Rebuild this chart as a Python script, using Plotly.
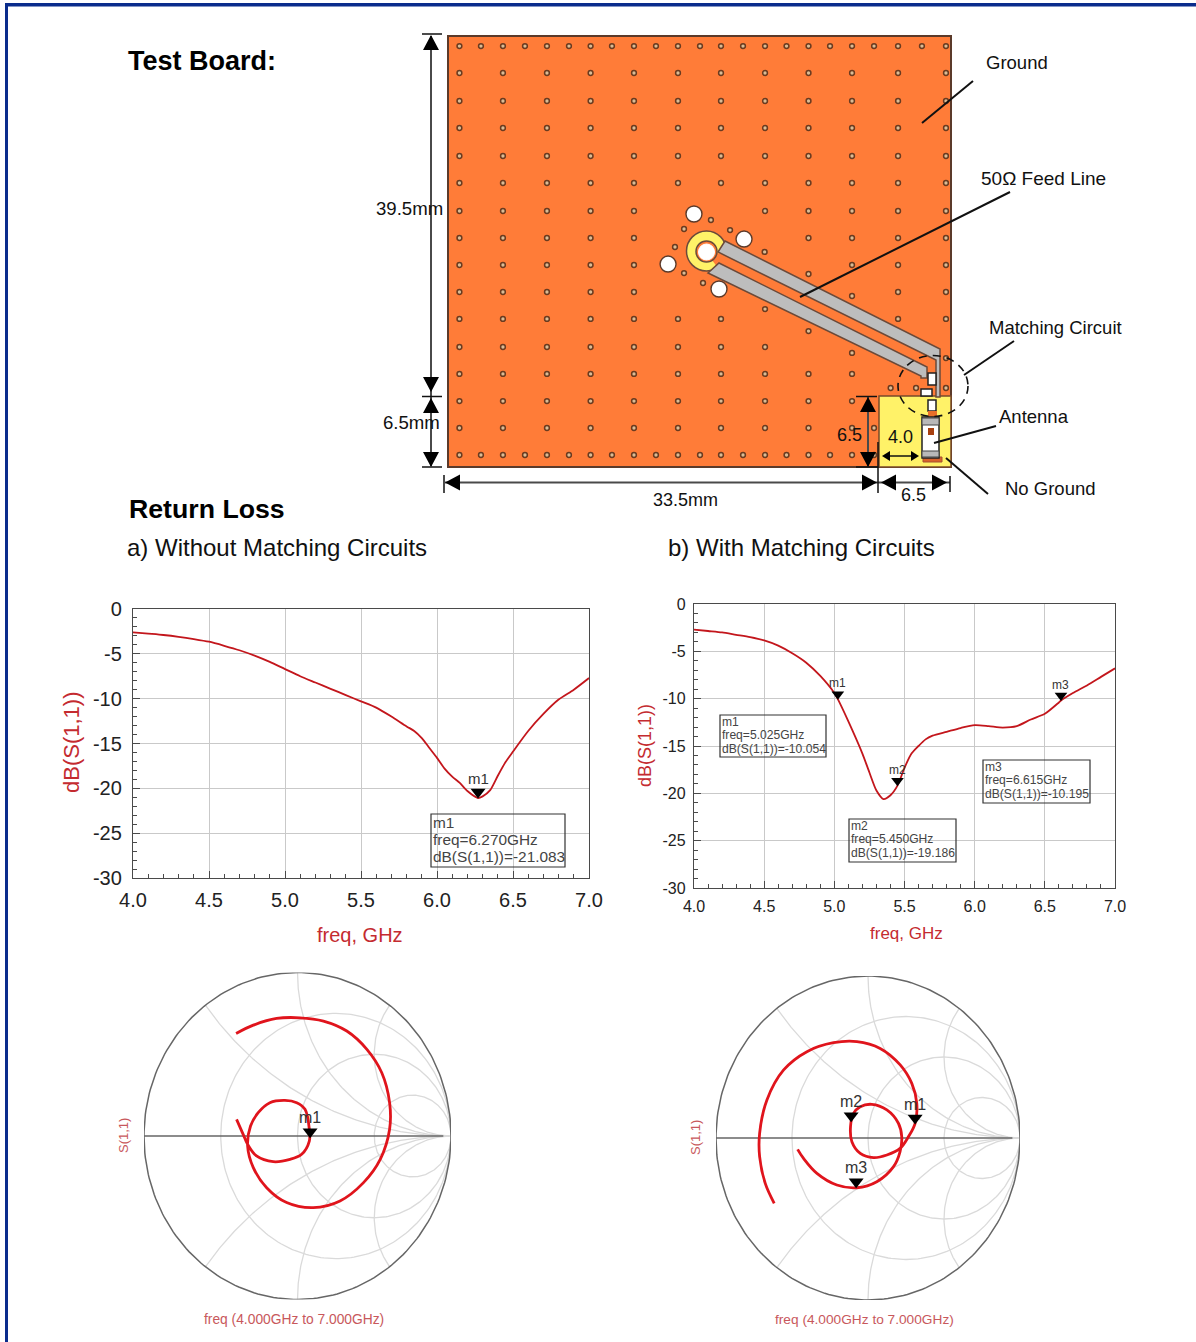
import numpy as np
import plotly.graph_objects as go

W, H = 1196, 1342

# ---------- return-loss data ----------
freq_a = [4.0,4.1,4.2,4.3,4.4,4.5,4.6,4.7,4.8,4.9,5.0,5.1,5.2,5.3,5.4,5.5,5.6,5.7,5.8,5.85,5.9,5.95,6.0,6.05,6.1,6.15,6.2,6.27,6.3,6.35,6.4,6.45,6.5,6.6,6.7,6.8,6.9,7.0]
db_a = [-2.6,-2.75,-2.9,-3.1,-3.35,-3.65,-4.1,-4.6,-5.2,-5.9,-6.7,-7.5,-8.2,-8.9,-9.6,-10.3,-11.0,-12.0,-13.1,-13.6,-14.4,-15.5,-16.6,-17.8,-18.7,-19.4,-20.3,-21.08,-20.9,-20.2,-18.6,-17.1,-15.9,-13.6,-11.7,-10.1,-9.0,-7.7]
freq_b = [4.0,4.1,4.2,4.3,4.4,4.5,4.6,4.7,4.8,4.9,5.0,5.025,5.1,5.2,5.25,5.3,5.35,5.4,5.45,5.5,5.55,5.6,5.65,5.7,5.8,5.9,6.0,6.1,6.2,6.3,6.4,6.5,6.6,6.615,6.7,6.8,6.9,7.0]
db_b = [-2.7,-2.85,-3.0,-3.25,-3.5,-3.85,-4.4,-5.2,-6.2,-7.6,-9.4,-10.05,-12.4,-15.8,-17.8,-19.7,-20.6,-20.2,-19.19,-17.3,-15.8,-15.0,-14.3,-13.9,-13.5,-13.1,-12.8,-12.9,-13.05,-12.9,-12.2,-11.6,-10.4,-10.2,-9.4,-8.6,-7.7,-6.8]
marker_a = {"m1": (6.27, -21.08)}
marker_b = {"m1": (5.025, -10.05), "m2": (5.45, -19.19), "m3": (6.615, -10.2)}
x_ticks = [4.0, 4.5, 5.0, 5.5, 6.0, 6.5, 7.0]
x_labels = ["4.0", "4.5", "5.0", "5.5", "6.0", "6.5", "7.0"]
y_ticks = [0, -5, -10, -15, -20, -25, -30]
y_labels = ["0", "-5", "-10", "-15", "-20", "-25", "-30"]

# ---------- Smith chart data (reflection coefficient) ----------
gamma_a_re = [-.40,-.288,-.136,.016,.169,.321,.452,.549,.600,.600,.539,.430,.277,.103,-.071,-.201,-.288,-.325,-.306,-.256,-.180,-.082,-.005,.049,.077,.077,.027,-.049,-.158,-.267,-.325,-.354,-.397]
gamma_a_im = [.627,.678,.719,.723,.703,.642,.530,.387,.204,.041,-.143,-.285,-.397,-.438,-.407,-.316,-.193,-.061,.061,.143,.204,.218,.204,.163,.041,-.031,-.112,-.143,-.157,-.122,-.051,.010,.102]
gamma_b_re = [-.617,-.676,-.713,-.713,-.665,-.555,-.402,-.227,-.073,.080,.212,.288,.321,.310,.266,.211,.124,.036,-.051,-.106,-.115,-.095,-.051,.025,.124,.200,.222,.211,.168,.058,-.073,-.205,-.336,-.424,-.463]
gamma_b_im = [-.403,-.280,-.115,.029,.235,.420,.533,.588,.595,.553,.451,.337,.214,.091,.008,-.064,-.105,-.121,-.095,-.023,.070,.152,.193,.208,.173,.091,.008,-.084,-.177,-.270,-.307,-.290,-.218,-.126,-.070]
smith_marker_a = {"m1": (.082, -.01)}
smith_marker_b = {"m1": (.31, .086), "m2": (-.111, .10), "m3": (-.078, -.307)}
smith_r = [1/3, 1, 3]
smith_x = [0.5, 1, 2]

# ---------- board (millimetres, origin bottom-left) ----------
via_cols = [0.91,4.37,7.87,11.34,14.79,18.29,21.71,25.21,28.67,32.13,35.79,39.6]
via_half = [2.62,6.12,9.62,13.04,16.54,20.04,23.46,26.92,30.38,33.88,37.69]
via_rows = [44.93,42.05,39.06,36.18,33.19,30.31,27.32,24.44,21.56,18.68,15.80,12.81,9.93,7.04,4.16,1.28]
via_skip = {6:[5,6],7:[5,6,7],8:[5,6,7,8],9:[5,6,7,8,9],10:[7,8,9],11:[8,9,10,11],12:[10,11],13:[10,11],14:[10,11],15:[10,11]}
via_extra_x = [25.18,28.67,32.13,25.21,28.67,32.13,35.2,37.22,39.6,39.6,33.88,20.91,18.77,22.43,18.05,18.77,20.28]
via_extra_y = [22.95,20.6,18.25,16.86,14.51,12.17,8.43,8.43,8.43,11.63,4.16,26.36,25.4,25.29,23.48,20.7,19.64]
hole_x = [19.56,23.54,17.5,21.55]
hole_y = [27.0,24.33,21.66,19.0]

vx, vy = [], []
for i, ry in enumerate(via_rows):
    for j, cx in enumerate(via_cols):
        if j not in via_skip.get(i, []):
            vx.append(cx); vy.append(ry)
    if i in (0, 15):
        for cx in via_half:
            if i == 0 or cx < 35:
                vx.append(cx); vy.append(ry)
vx += via_extra_x; vy += via_extra_y

RED = "#C3161C"
TXT_RED = "#C42B30"
GRID = "#C9C9C9"
DARK = "#4A4A4A"
FONT = "Liberation Sans"

fig = go.Figure()
shapes, ann = [], []

def dom_x(a, b): return [a / W, b / W]
def dom_y(top, bot): return [1 - bot / H, 1 - top / H]

def text(px, py, s, size, color="#111", anchor="center", bold=False, angle=0):
    ann.append(dict(xref="paper", yref="paper", x=px / W, y=1 - py / H, text=f"<b>{s}</b>" if bold else s,
                    showarrow=False, xanchor=anchor, yanchor="middle", textangle=angle,
                    font=dict(family=FONT, size=size, color=color)))

def rect(x0, y0, x1, y1, fill, line=None, lw=1, layer="above"):
    shapes.append(dict(type="rect", xref="x", yref="y", x0=x0, y0=y0, x1=x1, y1=y1, fillcolor=fill,
                       line=dict(color=line or fill, width=lw if line else 0), layer=layer))

def seg(x0, y0, x1, y1, color="#111", lw=2, dash=None):
    shapes.append(dict(type="line", xref="x", yref="y", x0=x0, y0=y0, x1=x1, y1=y1,
                       line=dict(color=color, width=lw, dash=dash or "solid"), layer="above"))

def poly(points, fill, line=None, lw=1):
    p = "M " + " L ".join(f"{a} {b}" for a, b in points) + " Z"
    shapes.append(dict(type="path", xref="x", yref="y", path=p, fillcolor=fill,
                       line=dict(color=line or fill, width=lw if line else 0), layer="above"))

def circle(cx, cy, r, fill, line=None, lw=1, ry=None, dash=None):
    ry = ry or r
    shapes.append(dict(type="circle", xref="x", yref="y", x0=cx - r, x1=cx + r, y0=cy - ry, y1=cy + ry,
                       fillcolor=fill, line=dict(color=line or fill, width=lw if line else 0, dash=dash or "solid"),
                       layer="above"))

def head(x, y, direction, size=15, half=8):
    if direction == "up":
        poly([(x, y), (x - half, y + size), (x + half, y + size)], "#000")
    elif direction == "down":
        poly([(x, y), (x - half, y - size), (x + half, y - size)], "#000")
    elif direction == "left":
        poly([(x, y), (x + size, y - half), (x + size, y + half)], "#000")
    else:
        poly([(x, y), (x - size, y - half), (x - size, y + half)], "#000")

# page axis in pixels
layout_axes = dict(
    xaxis=dict(domain=[0, 1], range=[0, W], visible=False, fixedrange=True, automargin=False),
    yaxis=dict(domain=[0, 1], range=[H, 0], visible=False, fixedrange=True, automargin=False),
)
fig.add_trace(go.Scatter(x=[0], y=[0], mode="markers", marker=dict(opacity=0), xaxis="x", yaxis="y",
                         showlegend=False, hoverinfo="skip"))

# frame
rect(5, 3, W, 6.5, "#0A2C8C", layer="below")
rect(5, 3, 8, H, "#0A2C8C", layer="below")

# board
rect(448, 36, 951, 467, "#FF7C38", "#5B3A2A", 2, layer="below")
rect(879, 396, 951, 467, "#FFF268", "#7A4A2A", 1.5, layer="below")

# vias on board axis (mm)
layout_axes["xaxis2"] = dict(domain=dom_x(448, 951), range=[0, 40], visible=False, fixedrange=True, automargin=False)
layout_axes["yaxis2"] = dict(domain=dom_y(36, 467), range=[0, 46], visible=False, fixedrange=True, automargin=False)
fig.add_trace(go.Scatter(x=vx, y=vy, mode="markers", xaxis="x2", yaxis="y2", showlegend=False, hoverinfo="skip",
                         marker=dict(size=4.8, color="#D9BC96", line=dict(color="#6A3B20", width=1.5))))
fig.add_trace(go.Scatter(x=hole_x, y=hole_y, mode="markers", xaxis="x2", yaxis="y2", showlegend=False, hoverinfo="skip",
                         marker=dict(size=16, color="#FFFFFF", line=dict(color="#5B3A2A", width=1.4))))

# feed line and connector
EDGE = "#6B4A3A"
circle(706.5, 251, 20, "#FFF268", EDGE, 1.5)
poly([(706, 252), (727, 254), (727, 262), (718, 268)], "#FF7C38")
poly([(725, 241), (940, 349), (940, 397), (936, 397), (936, 360), (718, 252)], "#BDBDBD", EDGE, 1.5)
poly([(719, 263), (927, 367), (927, 378), (921, 378), (921, 376), (708, 273)], "#BDBDBD", EDGE, 1.5)
circle(706.5, 251.5, 10.5, "#FF7C38", EDGE, 1.5)
circle(706.5, 252, 8, "#FFFFFF", "#FFFFFF", 1)

# matching circuit and antenna
rect(928, 373, 936, 385, "#FFFFFF", "#222", 1.5)
rect(921, 389, 932, 396, "#FFFFFF", "#222", 1.5)
rect(928, 400, 936, 411, "#FFFFFF", "#222", 1.5)
rect(928, 411, 937, 417, "#E8702A")
rect(923, 457, 942, 462, "#D9622A", "#A35030", 1)
rect(922, 417, 939, 458, "#FFFFFF", "#222", 1.5)
rect(922, 418, 939, 425, "#B9B9B9", "#444", 1)
rect(922, 451, 939, 457, "#B9B9B9", "#444", 1)
rect(928, 428, 934, 435, "#A8400F")
circle(933, 386, 35, "rgba(0,0,0,0)", "#111", 1.6, ry=30.5, dash="8px,6px")

# dimensions
seg(431, 36, 431, 466, DARK, 2)
seg(422, 34, 442, 34, "#111", 1.5); seg(422, 396.5, 442, 396.5, "#111", 1.5); seg(422, 467, 442, 467, "#111", 1.5)
head(431, 35, "up"); head(431, 392, "down"); head(431, 398, "up"); head(431, 467, "down")
seg(445, 482.5, 950, 482.5, DARK, 2)
seg(444, 475, 444, 493, "#111", 1.5); seg(878, 442, 878, 493, "#111", 1.5); seg(950, 476, 950, 492, "#111", 1.5)
head(445, 482.5, "left"); head(877, 482.5, "right"); head(881, 482.5, "left"); head(947, 482.5, "right")
seg(868, 397, 868, 466, DARK, 2)
seg(856, 396.5, 877, 396.5, "#111", 1.5); seg(856, 467, 878, 467, "#111", 1.5)
head(868, 397, "up"); head(868, 467, "down")
seg(884, 456, 917, 456, "#111", 1.5)
head(882, 456, "left", 8, 5); head(919, 456, "right", 8, 5)

# call-outs
seg(973, 81, 922, 123, "#111", 2)
seg(1010, 192, 800, 297, "#111", 2)
seg(1014, 341, 964, 375, "#111", 2)
seg(996, 426, 934, 443, "#111", 2)
seg(946, 458, 988, 494, "#111", 2)

text(125.5, 61, "Test Board:", 27, "#000", "left", bold=True)
text(126.5, 509, "Return Loss", 26.7, "#000", "left", bold=True)
text(125, 548, "a) Without Matching Circuits", 24, "#111", "left")
text(666, 548, "b) With Matching Circuits", 24, "#111", "left")
text(1017, 62, "Ground", 18.5)
text(1043, 179, "50Ω Feed Line", 19)
text(1055, 327, "Matching Circuit", 18.5)
text(1034, 416, "Antenna", 18.5)
text(1050, 488, "No Ground", 18.5)
text(409, 208, "39.5mm", 18.6)
text(411, 422, "6.5mm", 18.6)
text(685, 500, "33.5mm", 18)
text(913, 495, "6.5", 18)
text(849, 435, "6.5", 18)
text(900, 437, "4.0", 18)

# return loss plots
def rl_plot(n, left, right, top, bottom, fx, fy, markers, tick_size, mark_size, tri, stand, lab_shift, ystand):
    xa, ya = f"xaxis{n}", f"yaxis{n}"
    layout_axes[xa] = dict(domain=dom_x(left, right), range=[4, 7], tickmode="array", tickvals=x_ticks, ticktext=x_labels,
                           showgrid=True, gridcolor=GRID, gridwidth=1.2, zeroline=False, showline=True, mirror=True,
                           linecolor=DARK, linewidth=1.3, ticks="inside", ticklen=7, tickcolor=DARK,
                           minor=dict(dtick=0.1, ticks="inside", ticklen=4, tickcolor=DARK, showgrid=False),
                           tickfont=dict(family=FONT, size=tick_size, color="#222"), anchor=f"y{n}", fixedrange=True,
                           ticklabelstandoff=4, automargin=False)
    layout_axes[ya] = dict(domain=dom_y(top, bottom), range=[-30, 0], tickmode="array", tickvals=y_ticks, ticktext=y_labels,
                           showgrid=True, gridcolor=GRID, gridwidth=1.2, zeroline=False, showline=True, mirror=True,
                           linecolor=DARK, linewidth=1.3, ticks="inside", ticklen=7, tickcolor=DARK,
                           minor=dict(dtick=1, ticks="inside", ticklen=4, tickcolor=DARK, showgrid=False),
                           tickfont=dict(family=FONT, size=tick_size, color="#222"), anchor=f"x{n}", fixedrange=True,
                           ticklabelstandoff=ystand, automargin=False)
    fig.add_trace(go.Scatter(x=fx, y=fy, mode="lines", xaxis=f"x{n}", yaxis=f"y{n}", showlegend=False,
                             line=dict(color=RED, width=1.8, shape="spline", smoothing=0.7), hoverinfo="skip"))
    fig.add_trace(go.Scatter(x=[v[0] for v in markers.values()], y=[v[1] for v in markers.values()], mode="markers",
                             xaxis=f"x{n}", yaxis=f"y{n}", showlegend=False, hoverinfo="skip",
                             marker=dict(symbol="triangle-up", angle=180, size=tri, color="#000", standoff=stand)))
    for k, (a, b) in markers.items():
        ann.append(dict(xref=f"x{n}", yref=f"y{n}", x=a, y=b, text=k, showarrow=False, yshift=lab_shift,
                        font=dict(family=FONT, size=mark_size, color="#333")))

rl_plot(3, 133, 589, 609, 878, freq_a, db_a, marker_a, 20, 15, 13, 6, 20, 6)
rl_plot(4, 694, 1115, 604, 888, freq_b, db_b, marker_b, 16, 12, 11, 5, 16, 4)

text(71, 743, "dB(S(1,1))", 22, TXT_RED, angle=-90)
text(360, 935, "freq, GHz", 20, TXT_RED)
text(645, 746, "dB(S(1,1))", 18, TXT_RED, angle=-90)
text(906, 934, "freq, GHz", 17, TXT_RED)

def marker_box(x0, y0, x1, y1, lines, size, pitch):
    rect(x0, y0, x1, y1, "rgba(0,0,0,0)", "#333", 1.2)
    for i, s in enumerate(lines):
        text(x0, y0 + (y1 - y0) * 0.16 + i * pitch, s, size, "#444", "left")

marker_box(431, 814, 565, 867, ["m1", "freq=6.270GHz", "dB(S(1,1))=-21.083"], 15.4, 17)
marker_box(720, 715, 826, 757, ["m1", "freq=5.025GHz", "dB(S(1,1))=-10.054"], 12.1, 13.5)
marker_box(849, 819, 956, 862, ["m2", "freq=5.450GHz", "dB(S(1,1))=-19.186"], 12.1, 13.5)
marker_box(983, 760, 1090, 803, ["m3", "freq=6.615GHz", "dB(S(1,1))=-10.195"], 12.1, 13.5)

# Smith charts
def smith(n, cx, cy, rx, ry, gre, gim, markers, lab_offset):
    xa, ya = f"xaxis{n}", f"yaxis{n}"
    layout_axes[xa] = dict(domain=dom_x(cx - rx, cx + rx), range=[-1, 1], visible=False, fixedrange=True, anchor=f"y{n}", automargin=False)
    layout_axes[ya] = dict(domain=dom_y(cy - ry, cy + ry), range=[-1, 1], visible=False, fixedrange=True, anchor=f"x{n}", automargin=False)
    grid_x, grid_y = [], []
    th = np.linspace(0, 2 * np.pi, 241)
    for r in smith_r:
        grid_x += list(r / (1 + r) + np.cos(th) / (1 + r)) + [None]
        grid_y += list(np.sin(th) / (1 + r)) + [None]
    rs = np.concatenate([[0], np.geomspace(0.005, 200, 240)])
    for x in smith_x:
        for sgn in (1, -1):
            z = rs + 1j * sgn * x
            g = (z - 1) / (z + 1)
            grid_x += list(g.real) + [None]
            grid_y += list(g.imag) + [None]
    fig.add_trace(go.Scatter(x=grid_x, y=grid_y, mode="lines", xaxis=f"x{n}", yaxis=f"y{n}", showlegend=False,
                             hoverinfo="skip", line=dict(color="#DADADA", width=1.3)))
    fig.add_trace(go.Scatter(x=[-1, 0.95], y=[0, 0], mode="lines", xaxis=f"x{n}", yaxis=f"y{n}", showlegend=False,
                             hoverinfo="skip", line=dict(color="#666", width=1.5)))
    fig.add_trace(go.Scatter(x=list(np.cos(th)), y=list(np.sin(th)), mode="lines", xaxis=f"x{n}", yaxis=f"y{n}",
                             showlegend=False, hoverinfo="skip", line=dict(color="#666", width=1.5)))
    fig.add_trace(go.Scatter(x=gre, y=gim, mode="lines", xaxis=f"x{n}", yaxis=f"y{n}", showlegend=False,
                             hoverinfo="skip", line=dict(color="#E0141C", width=2.8, shape="spline", smoothing=1.0)))
    fig.add_trace(go.Scatter(x=[v[0] for v in markers.values()], y=[v[1] for v in markers.values()], mode="markers",
                             xaxis=f"x{n}", yaxis=f"y{n}", showlegend=False, hoverinfo="skip",
                             marker=dict(symbol="triangle-up", angle=180, size=13, color="#000", standoff=6)))
    for k, (a, b) in markers.items():
        ann.append(dict(xref=f"x{n}", yref=f"y{n}", x=a, y=b, text=k, showarrow=False, yshift=lab_offset,
                        font=dict(family=FONT, size=16, color="#333")))

smith(5, 297.5, 1136, 153.5, 163.5, gamma_a_re, gamma_a_im, smith_marker_a, 20)
smith(6, 868, 1138, 152, 162, gamma_b_re, gamma_b_im, smith_marker_b, 20)

SR = "#C8585C"
text(123, 1136, "S(1,1)", 13, SR, angle=-90)
text(695, 1138, "S(1,1)", 13, SR, angle=-90)
text(294, 1319, "freq (4.000GHz to 7.000GHz)", 13.8, SR)
text(864, 1319, "freq (4.000GHz to 7.000GHz)", 13.7, SR)

fig.update_layout(width=W, height=H, margin=dict(l=0, r=0, t=0, b=0), autosize=False,
                  paper_bgcolor="#FFFFFF", plot_bgcolor="rgba(0,0,0,0)", showlegend=False,
                  shapes=shapes, annotations=ann, font=dict(family=FONT), **layout_axes)

fig.write_html("out.html", config=dict(displayModeBar=False),
               post_script="document.body.style.margin='0';document.body.style.overflow='hidden';")
